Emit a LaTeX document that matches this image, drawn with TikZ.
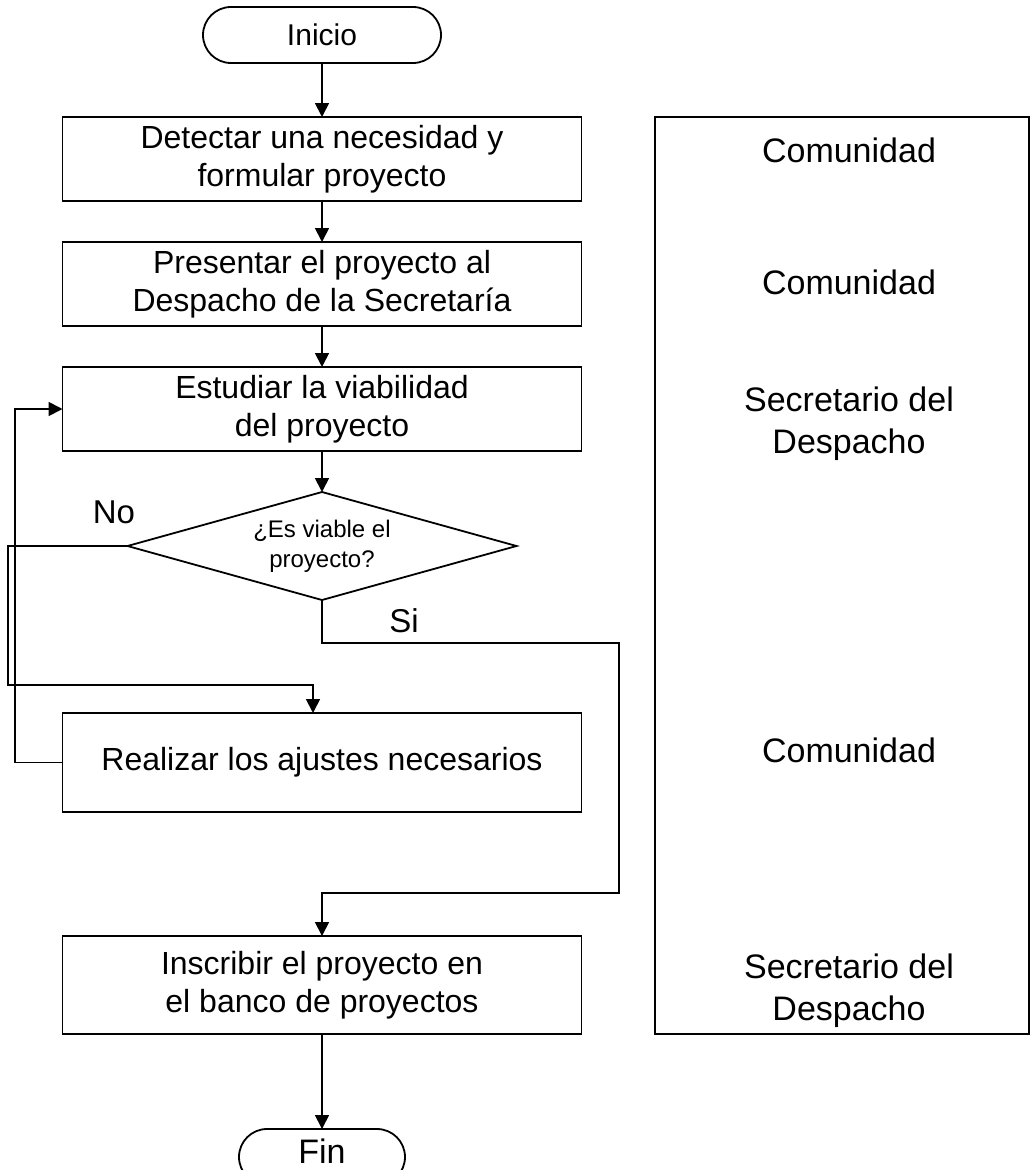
\documentclass[tikz,border=0pt]{standalone}
\usepackage{fontspec}
\setmainfont{Liberation Sans}
\usetikzlibrary{shapes.geometric,shapes.misc,arrows.meta}
\begin{document}
\begin{tikzpicture}[x=1pt,y=-1pt,
  every node/.style={inner sep=0pt, outer sep=0pt},
  proc/.style={draw, line width=1.8pt, minimum width=519pt, align=center, font=\fontsize{32}{38}\selectfont},
  term/.style={draw, line width=1.8pt, rounded rectangle, minimum height=56pt},
  flow/.style={line width=1.8pt, -{Triangle[length=14pt,width=14pt]}},
  lbl/.style={font=\fontsize{34}{42}\selectfont, align=center},
  yesno/.style={font=\fontsize{33}{40}\selectfont}]
\clip (0,0) rectangle (1030,1170);
\fill[white] (0,0) rectangle (1030,1170);

% flow nodes
\node[term, minimum width=238pt, font=\fontsize{30}{36}\selectfont] (ini) at (322,35) {Inicio};
\node[proc, minimum height=84pt] (b1) at (322,159) {Detectar una necesidad y\\formular proyecto};
\node[proc, minimum height=84pt] (b2) at (322,284) {Presentar el proyecto al\\Despacho de la Secretaría};
\node[proc, minimum height=84pt] (b3) at (322,409) {Estudiar la viabilidad\\del proyecto};
\node[draw, line width=1.8pt, diamond, shape aspect=3.6, minimum width=389pt, minimum height=108pt, align=center,
      font=\fontsize{24}{30}\selectfont] (dec) at (322,546) {¿Es viable el\\proyecto?};
\node[proc, minimum height=99pt] (b4) at (322,762.5) {Realizar los ajustes necesarios};
\node[proc, minimum height=98pt] (b5) at (322,985) {Inscribir el proyecto en\\el banco de proyectos};
\node[term, minimum width=166pt, text depth=12pt, font=\fontsize{34}{40}\selectfont] (fin) at (322,1157) {Fin};

% labels
\node[yesno] (no) at (114,512) {No};
\node[yesno] (si) at (404,621) {Si};

% right column
\node[draw, line width=1.8pt, minimum width=374pt, minimum height=917pt] (resp) at (842,575.5) {};
\node[lbl] (r1) at (849,150) {Comunidad};
\node[lbl] (r2) at (849,282) {Comunidad};
\node[lbl] (r3) at (849,424) {Secretario del\\Despacho};
\node[lbl] (r4) at (849,750) {Comunidad};
\node[lbl] (r5) at (849,991) {Secretario del\\Despacho};

% connectors
\draw[flow] (ini) -- (b1);
\draw[flow] (b1) -- (b2);
\draw[flow] (b2) -- (b3);
\draw[flow] (b3) -- (dec);
\draw[flow] (dec.west) -| (8,685) -| ([xshift=-9pt]b4.north);
\draw[flow] (b4.west) -| (15,409) -- (b3.west);
\draw[flow] (dec.south) |- (619,643) |- (322,893) -- (b5.north);
\draw[flow] (b5) -- (fin);
\end{tikzpicture}
\end{document}
